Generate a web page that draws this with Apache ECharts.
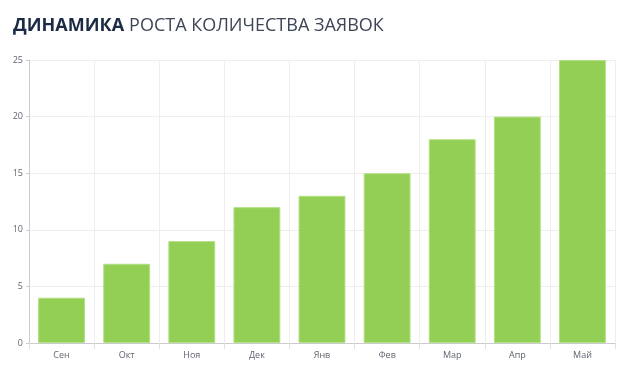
<!DOCTYPE html>
<html><head><meta charset="utf-8">
<script src="https://cdn.jsdelivr.net/npm/echarts@6/dist/echarts.min.js"></script>
<style>html,body{margin:0;padding:0;background:#fff}#c{width:624px;height:376px}</style>
</head><body><div id="c"></div>
<script>
const categories = ['Сен','Окт','Ноя','Дек','Янв','Фев','Мар','Апр','Май'];
const values = [4, 7, 9, 12, 13, 15, 18, 20, 25];
const yTicks = [0, 5, 10, 15, 20, 25];

const chart = echarts.init(document.getElementById('c'));
chart.setOption({
  animation: false,
  title: {
    left: 8, top: 12,
    text: '{b|ДИНАМИКА} {n|РОСТА КОЛИЧЕСТВА ЗАЯВОК}',
    textStyle: {
      rich: {
        b: {fontFamily: 'Open Sans', fontWeight: 'bold', fontSize: 18, color: '#1b2b45', letterSpacing: -0.2},
        n: {fontFamily: 'Open Sans', fontWeight: 'normal', fontSize: 18, color: '#3d4656', letterSpacing: -0.6}
      }
    }
  },
  grid: {left: 29, right: 9, top: 60, bottom: 33},
  xAxis: {
    type: 'category', data: categories,
    axisLine: {lineStyle: {color: '#ccc', width: 1}},
    axisTick: {show: true, length: 6, lineStyle: {color: '#e0e0e0'}},
    axisLabel: {color: '#5f6470', fontSize: 9, fontFamily: 'Open Sans', margin: 8},
    splitLine: {show: true, lineStyle: {color: '#eeeeee'}}
  },
  yAxis: {
    type: 'value', min: yTicks[0], max: yTicks[yTicks.length-1], interval: 5,
    axisLine: {show: true, lineStyle: {color: '#ccc', width: 1}},
    axisTick: {show: true, length: 3, lineStyle: {color: '#ccc'}},
    axisLabel: {color: '#5f6470', fontSize: 9, fontFamily: 'Open Sans', margin: 6},
    splitLine: {lineStyle: {color: '#eeeeee'}}
  },
  series: [{
    type: 'bar', data: values, barCategoryGap: '28%',
    itemStyle: {color: '#94cf55', borderColor: '#b3e084', borderWidth: 1}
  }]
});
</script></body></html>
